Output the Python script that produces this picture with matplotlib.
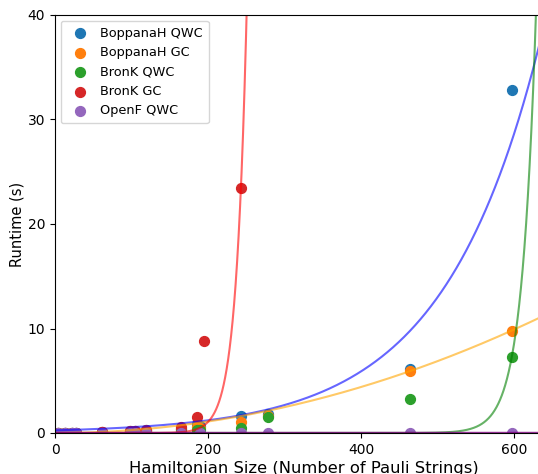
import numpy as np
import matplotlib
matplotlib.use("Agg")
import matplotlib.pyplot as plt

# Measured runtimes (seconds) against Hamiltonian size (number of Pauli strings)
boppana_qwc_x = [4, 13, 22, 27, 62, 98, 105, 119, 165, 186, 190, 243, 279, 464, 597]
boppana_qwc_y = [0.01, 0.02, 0.03, 0.03, 0.08, 0.15, 0.18, 0.25, 0.4, 0.9, 0.7, 1.6, 1.8, 6.1, 32.8]

boppana_gc_x = [4, 13, 22, 27, 62, 98, 105, 119, 165, 186, 190, 243, 279, 464, 597]
boppana_gc_y = [0.01, 0.02, 0.03, 0.03, 0.07, 0.12, 0.15, 0.2, 0.35, 0.6, 0.5, 1.1, 1.6, 5.9, 9.8]

bronk_qwc_x = [4, 13, 22, 27, 62, 98, 105, 119, 165, 186, 190, 243, 279, 464, 597]
bronk_qwc_y = [0.01, 0.01, 0.02, 0.02, 0.04, 0.08, 0.1, 0.12, 0.2, 0.3, 0.3, 0.45, 1.5, 3.3, 7.3]

bronk_gc_x = [4, 13, 22, 27, 62, 98, 105, 119, 165, 186, 195, 243]
bronk_gc_y = [0.01, 0.02, 0.03, 0.03, 0.08, 0.2, 0.2, 0.3, 0.6, 1.5, 8.8, 23.4]

openf_qwc_x = [4, 13, 22, 27, 62, 98, 105, 119, 165, 190, 243, 279, 464, 597]
openf_qwc_y = [0.01, 0.01, 0.01, 0.01, 0.01, 0.01, 0.01, 0.01, 0.01, 0.02, 0.02, 0.02, 0.03, 0.04]

# Fitted trend curves: exponential a*exp(b*x) and quadratic c*x^2
boppana_qwc_fit = (0.25, 0.0079)
boppana_gc_fit = 2.75e-5
bronk_qwc_fit = (7.24 * np.exp(-0.054 * 597), 0.054)
bronk_gc_fit = (23.4 * np.exp(-0.072 * 243), 0.072)
openf_qwc_fit = (0.01, 0.0008)

labels = ["BoppanaH QWC", "BoppanaH GC", "BronK QWC", "BronK GC", "OpenF QWC"]

W, H = 538, 474
fig = plt.figure(figsize=(W / 100, H / 100), dpi=100)
ax = fig.add_axes([55 / W, 41 / H, 650 * 0.765 / W, 418 / H])

ax.scatter(boppana_qwc_x, boppana_qwc_y, s=50, color="C0", label=labels[0])
ax.scatter(boppana_gc_x, boppana_gc_y, s=50, color="C1", label=labels[1])
ax.scatter(bronk_qwc_x, bronk_qwc_y, s=50, color="C2", label=labels[2])
ax.scatter(bronk_gc_x, bronk_gc_y, s=50, color="C3", label=labels[3])
ax.scatter(openf_qwc_x, openf_qwc_y, s=50, color="C4", label=labels[4])

xs = np.linspace(0, 650, 2000)
ax.plot(xs, boppana_qwc_fit[0] * np.exp(boppana_qwc_fit[1] * xs), color="b", alpha=0.6, lw=1.5)
ax.plot(xs, boppana_gc_fit * xs ** 2, color="orange", alpha=0.6, lw=1.5)
ax.plot(xs, bronk_qwc_fit[0] * np.exp(bronk_qwc_fit[1] * xs), color="g", alpha=0.6, lw=1.5)
ax.plot(xs, bronk_gc_fit[0] * np.exp(bronk_gc_fit[1] * xs), color="r", alpha=0.6, lw=1.5)
ax.plot(xs, openf_qwc_fit[0] * np.exp(openf_qwc_fit[1] * xs), color="purple", alpha=0.8, lw=1.5)

ax.set_xlim(0, 650)
ax.set_ylim(0, 40)
ax.set_xticks([0, 200, 400, 600])
ax.set_yticks([0, 10, 20, 30, 40])
ax.tick_params(labelsize=10)
ax.set_xlabel("Hamiltonian Size (Number of Pauli Strings)", fontsize=11.8, labelpad=3)
ax.set_ylabel("Runtime (s)", fontsize=10.5, labelpad=2)
ax.legend(loc="upper left", fontsize=9.3, handletextpad=0.6, borderpad=0.45,
          borderaxespad=0.45, labelspacing=0.5)

fig.savefig("out.png", dpi=100)
